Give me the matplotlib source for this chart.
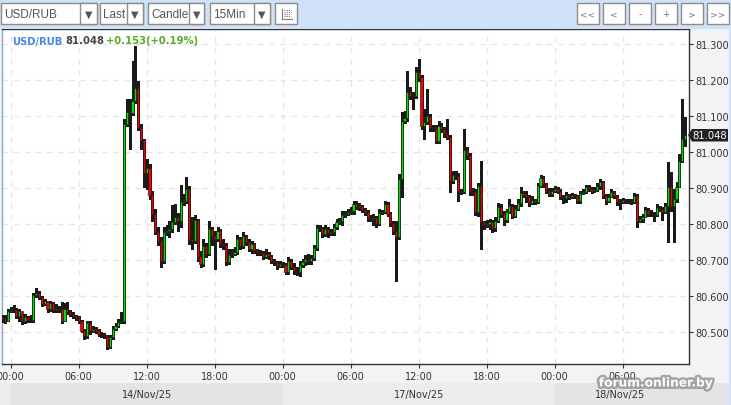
import matplotlib
matplotlib.use('Agg')
import matplotlib.pyplot as plt
import matplotlib.patches as mpatches
import matplotlib.patheffects as pe
import numpy as np

# USD/RUB, 15 minute candles. index 0 = 14/Nov 00:00, weekend skipped (96 = 17/Nov 00:00)
first_index = -3
first_open = 80.542
closes = [
    80.536, 80.531, 80.558, 80.561, 80.561, 80.544, 80.558, 80.531, 80.542, 80.533,
    80.533, 80.603, 80.608, 80.597, 80.578, 80.586, 80.564, 80.581, 80.561, 80.564,
    80.564, 80.531, 80.564, 80.556, 80.550, 80.544, 80.539, 80.531, 80.503, 80.489,
    80.525, 80.503, 80.508, 80.503, 80.494, 80.492, 80.489, 80.458, 80.486, 80.508,
    80.517, 80.528, 80.531, 81.078, 81.111, 81.108, 81.142, 81.178, 81.067, 81.033,
    80.942, 80.956, 80.881, 80.828, 80.778, 80.753, 80.697, 80.778, 80.781, 80.786,
    80.806, 80.819, 80.808, 80.861, 80.864, 80.897, 80.758, 80.753, 80.811, 80.708,
    80.689, 80.739, 80.717, 80.786, 80.767, 80.758, 80.781, 80.744, 80.742, 80.694,
    80.714, 80.717, 80.722, 80.758, 80.739, 80.767, 80.750, 80.731, 80.744, 80.725,
    80.722, 80.719, 80.708, 80.717, 80.711, 80.697, 80.694, 80.683, 80.689, 80.686,
    80.667, 80.697, 80.681, 80.669, 80.667, 80.686, 80.694, 80.703, 80.697, 80.706,
    80.733, 80.789, 80.789, 80.772, 80.786, 80.775, 80.778, 80.792, 80.806, 80.808,
    80.825, 80.828, 80.833, 80.836, 80.856, 80.847, 80.850, 80.839, 80.833, 80.817,
    80.814, 80.817, 80.800, 80.831, 80.833, 80.856, 80.828, 80.803, 80.781, 80.764,
    80.925, 81.086, 81.094, 81.167, 81.156, 81.156, 81.222, 81.208, 81.072, 81.083,
    81.100, 81.067, 81.064, 81.031, 81.072, 81.064, 81.050, 81.042, 80.919, 80.936,
    80.933, 80.892, 80.889, 81.006, 80.992, 80.892, 80.889, 80.833, 80.906, 80.806,
    80.797, 80.800, 80.806, 80.789, 80.808, 80.847, 80.828, 80.811, 80.833, 80.850,
    80.822, 80.842, 80.858, 80.886, 80.881, 80.875, 80.858, 80.867, 80.861, 80.906,
    80.928, 80.911, 80.892, 80.883, 80.892, 80.897, 80.892, 80.875, 80.872, 80.881,
    80.875, 80.881, 80.878, 80.864, 80.886, 80.889, 80.903, 80.897, 80.892, 80.894,
    80.906, 80.917, 80.878, 80.864, 80.875, 80.889, 80.878, 80.861, 80.861, 80.867,
    80.864, 80.864, 80.861, 80.878, 80.808, 80.814, 80.819, 80.839, 80.828, 80.828,
    80.825, 80.844, 80.842, 80.833, 80.850, 80.903, 80.850, 80.869, 80.903, 80.975,
    81.036, 81.048,
]
highs = [
    80.547, 80.547, 80.564, 80.569, 80.575, 80.567, 80.564, 80.550, 80.550, 80.544,
    80.547, 80.608, 80.622, 80.614, 80.600, 80.592, 80.586, 80.586, 80.583, 80.578,
    80.572, 80.583, 80.581, 80.583, 80.561, 80.556, 80.547, 80.544, 80.533, 80.508,
    80.531, 80.531, 80.517, 80.514, 80.508, 80.500, 80.497, 80.492, 80.492, 80.517,
    80.525, 80.536, 80.556, 81.092, 81.147, 81.147, 81.253, 81.294, 81.197, 81.078,
    81.036, 80.981, 80.967, 80.892, 80.842, 80.792, 80.764, 80.792, 80.797, 80.808,
    80.853, 80.856, 80.831, 80.908, 80.883, 80.931, 80.906, 80.819, 80.825, 80.814,
    80.725, 80.758, 80.747, 80.808, 80.792, 80.781, 80.792, 80.786, 80.758, 80.747,
    80.731, 80.731, 80.736, 80.769, 80.764, 80.778, 80.769, 80.758, 80.753, 80.747,
    80.731, 80.728, 80.725, 80.731, 80.722, 80.714, 80.703, 80.697, 80.697, 80.694,
    80.692, 80.708, 80.703, 80.692, 80.681, 80.697, 80.703, 80.714, 80.717, 80.714,
    80.742, 80.797, 80.797, 80.792, 80.797, 80.792, 80.786, 80.800, 80.814, 80.817,
    80.836, 80.836, 80.842, 80.847, 80.864, 80.864, 80.858, 80.853, 80.844, 80.839,
    80.825, 80.828, 80.822, 80.842, 80.839, 80.864, 80.861, 80.833, 80.808, 80.808,
    80.939, 81.111, 81.114, 81.225, 81.181, 81.167, 81.236, 81.258, 81.214, 81.119,
    81.175, 81.106, 81.075, 81.075, 81.086, 81.081, 81.069, 81.092, 81.047, 80.947,
    80.947, 80.942, 80.897, 81.064, 81.014, 80.997, 80.900, 80.897, 80.914, 80.975,
    80.808, 80.811, 80.814, 80.811, 80.819, 80.858, 80.856, 80.836, 80.842, 80.869,
    80.856, 80.853, 80.869, 80.903, 80.892, 80.892, 80.881, 80.878, 80.869, 80.914,
    80.936, 80.933, 80.914, 80.900, 80.900, 80.906, 80.903, 80.897, 80.881, 80.889,
    80.883, 80.886, 80.883, 80.881, 80.892, 80.897, 80.908, 80.908, 80.903, 80.903,
    80.914, 80.925, 80.919, 80.883, 80.883, 80.897, 80.892, 80.881, 80.869, 80.872,
    80.869, 80.869, 80.869, 80.886, 80.883, 80.822, 80.828, 80.847, 80.844, 80.839,
    80.833, 80.856, 80.850, 80.847, 80.858, 80.972, 80.944, 80.897, 80.917, 80.994,
    81.147, 81.097,
]
lows = [
    80.528, 80.525, 80.531, 80.556, 80.556, 80.539, 80.531, 80.522, 80.525, 80.528,
    80.528, 80.528, 80.597, 80.592, 80.572, 80.575, 80.556, 80.558, 80.556, 80.556,
    80.556, 80.525, 80.531, 80.550, 80.544, 80.539, 80.533, 80.525, 80.500, 80.481,
    80.483, 80.494, 80.500, 80.497, 80.489, 80.486, 80.483, 80.453, 80.456, 80.481,
    80.506, 80.514, 80.525, 80.525, 81.072, 81.008, 81.103, 81.136, 81.061, 81.008,
    80.903, 80.897, 80.869, 80.808, 80.772, 80.742, 80.681, 80.692, 80.769, 80.764,
    80.778, 80.800, 80.781, 80.792, 80.853, 80.858, 80.744, 80.731, 80.747, 80.697,
    80.681, 80.683, 80.708, 80.714, 80.742, 80.675, 80.753, 80.736, 80.731, 80.686,
    80.689, 80.708, 80.714, 80.717, 80.731, 80.733, 80.742, 80.725, 80.719, 80.719,
    80.714, 80.714, 80.703, 80.706, 80.703, 80.692, 80.686, 80.675, 80.681, 80.681,
    80.661, 80.661, 80.675, 80.661, 80.658, 80.656, 80.681, 80.686, 80.689, 80.689,
    80.700, 80.728, 80.781, 80.764, 80.767, 80.764, 80.769, 80.769, 80.786, 80.800,
    80.797, 80.819, 80.825, 80.828, 80.828, 80.842, 80.839, 80.833, 80.825, 80.808,
    80.808, 80.797, 80.792, 80.797, 80.828, 80.831, 80.822, 80.794, 80.772, 80.642,
    80.758, 80.875, 81.081, 81.086, 81.147, 81.119, 81.150, 81.197, 81.064, 81.036,
    81.078, 81.058, 81.058, 81.025, 81.025, 81.056, 81.042, 81.036, 80.889, 80.914,
    80.925, 80.864, 80.883, 80.886, 80.981, 80.881, 80.881, 80.825, 80.822, 80.731,
    80.786, 80.792, 80.786, 80.778, 80.781, 80.806, 80.819, 80.797, 80.806, 80.831,
    80.817, 80.819, 80.839, 80.850, 80.875, 80.861, 80.850, 80.856, 80.856, 80.858,
    80.903, 80.903, 80.886, 80.878, 80.878, 80.889, 80.886, 80.869, 80.858, 80.861,
    80.869, 80.872, 80.872, 80.858, 80.858, 80.883, 80.886, 80.892, 80.886, 80.889,
    80.892, 80.897, 80.872, 80.856, 80.861, 80.875, 80.872, 80.853, 80.842, 80.858,
    80.858, 80.858, 80.856, 80.858, 80.792, 80.806, 80.806, 80.819, 80.822, 80.822,
    80.808, 80.822, 80.836, 80.811, 80.831, 80.750, 80.836, 80.750, 80.861, 80.903,
    80.972, 81.017,
]

time_ticks = [0, 24, 48, 72, 96, 120, 144, 168, 192, 216]
time_labels = ['00:00', '06:00', '12:00', '18:00', '00:00', '06:00', '12:00', '18:00', '00:00', '06:00']
price_ticks = [80.5, 80.6, 80.7, 80.8, 80.9, 81.0, 81.1, 81.2, 81.3]
day_labels = ['14/Nov/25', '17/Nov/25', '18/Nov/25']
day_start = [0, 96, 192]
day_end = [96, 192, 262]
day_label_pos = [48, 144, 215]

symbol = 'USD/RUB'
last_price = '81.048'
change = '+0.153(+0.19%)'

W, H = 731, 406
fig = plt.figure(figsize=(W / 100, H / 100), dpi=100)
fig.patch.set_facecolor('#f2f3f5')

# main chart area (pixel box 1.5..689 x 30..365)
ax = fig.add_axes([1.5 / W, (H - 365) / H, 687.5 / W, 335 / H], zorder=1)
ax.set_facecolor('white')

x = np.arange(first_index, first_index + len(closes))
c = np.array(closes)
o = np.array([first_open] + closes[:-1])
up = c >= o
body_col = np.where(up, '#00e000', '#f00000')

ax.vlines(x, lows, highs, color='#1a1a1a', lw=1, zorder=3, antialiased=False)
ax.bar(x, np.abs(c - o), bottom=np.minimum(c, o), width=0.78, color=body_col,
       edgecolor='#1a1a1a', linewidth=0.45, zorder=4)

ax.set_xlim(-3.25, 239.4)
ax.set_ylim(80.4111, 81.3417)

ax.set_xticks(time_ticks)
ax.set_xticklabels(time_labels)
ax.set_yticks(price_ticks)
ax.set_yticklabels(['%.3f' % p for p in price_ticks])
ax.yaxis.tick_right()
ax.tick_params(axis='both', direction='out', length=3, color='#333333', labelcolor='#333333',
               labelsize=7)
ax.tick_params(axis='y', pad=1.5)
ax.tick_params(axis='x', pad=2)
ax.grid(True, color='#e6e6e6', lw=1, linestyle=(0, (4, 4)), zorder=0)
ax.set_axisbelow(True)
for name, sp in ax.spines.items():
    sp.set_color('#333333')
    sp.set_linewidth(1)
ax.spines['left'].set_color('#8aa6c8')

# day band under the time labels
tr = ax.get_xaxis_transform()
band_cols = ['#e3e4e6', '#ebecee', '#e3e4e6']
ax.add_patch(mpatches.Rectangle((-20, -0.1224), 20, 0.0657, transform=tr, clip_on=False,
                                facecolor='#ebecee', edgecolor='none', zorder=0))
for s, e, xm, lab, col in zip(day_start, day_end, day_label_pos, day_labels, band_cols):
    ax.add_patch(mpatches.Rectangle((s, -0.1224), e - s, 0.0657, transform=tr, clip_on=False,
                                    facecolor=col, edgecolor='none', zorder=0))
    ax.text(xm, -0.089, lab, transform=tr, ha='center', va='center', fontsize=7,
            color='#333333', zorder=1)

# overlay in pixel coordinates for toolbar and labels
ui = fig.add_axes([0, 0, 1, 1], zorder=5)
ui.set_xlim(0, W)
ui.set_ylim(H, 0)
ui.axis('off')
ui.patch.set_alpha(0)

ui.add_patch(mpatches.Rectangle((0, 0), W, 30, facecolor='#cfe2f8', edgecolor='none'))
ui.add_patch(mpatches.Rectangle((729, 30), 2, H - 30, facecolor='#cfe2f8', edgecolor='none'))


def dropdown(x0, x1, xdiv, label):
    ui.add_patch(mpatches.Rectangle((x0, 4), x1 - x0, 21, facecolor='white',
                                    edgecolor='#8c8c8c', lw=1))
    ui.text(x0 + 3.5, 15, label, fontsize=8.5, family='Liberation Sans', color='#555555',
            va='center', ha='left')
    ui.add_patch(mpatches.Rectangle((xdiv, 4), x1 - xdiv, 21, facecolor='white',
                                    edgecolor='#8c8c8c', lw=1))
    ui.text((xdiv + x1) / 2, 15, '\u25bc', fontsize=7, color='#555555', ha='center',
            va='center')


dropdown(1, 97, 80, 'USD/RUB')
dropdown(100, 143, 127, 'Last')
dropdown(148, 204, 189, 'Candle')
dropdown(210, 270, 254, '15Min')

ui.add_patch(mpatches.Rectangle((275, 4), 22, 21, facecolor='white', edgecolor='#8c8c8c', lw=1))
ui.plot([282, 282], [10, 20], color='#777777', lw=0.8)
ui.plot([282, 292], [20, 20], color='#777777', lw=0.8)
for yy in [11, 13, 15, 17]:
    ui.plot([284, 291], [yy, yy], color='#777777', lw=0.8, linestyle=(0, (1, 1)))

buttons = ['<<', '<', '-', '+', '>', '>>']
for k, b in enumerate(buttons):
    bx = 577 + 26 * k
    ui.add_patch(mpatches.Rectangle((bx, 4), 22, 21, facecolor='white', edgecolor='#8c8c8c', lw=1))
    ui.text(bx + 11, 14.5, b, fontsize=6.5, color='#777777', ha='center', va='center')

# header inside the chart
ui.text(12, 41.5, symbol, fontsize=7.2, weight='bold', color='#4a86e8', va='center')
ui.text(65, 41.5, last_price, fontsize=7.2, weight='bold', color='#444444', va='center')
ui.text(106, 41.5, change, fontsize=7.2, weight='bold', color='#5aaa2a', va='center')

# last price tag on the price axis
ui.add_patch(mpatches.Polygon([(688, 136), (692, 130), (728, 130), (728, 142.5), (692, 142.5)],
                              closed=True, facecolor='#222222', edgecolor='none'))
ui.text(710, 136.5, last_price, fontsize=7.2, color='white', ha='center', va='center')

# watermark
ui.text(656, 384, 'forum.onliner.by', fontsize=8.8, weight='bold', color='white',
        ha='center', va='center',
        path_effects=[pe.withStroke(linewidth=3.5, foreground='#8c8c8c', alpha=0.75)])

fig.savefig('out.png', dpi=100, facecolor=fig.get_facecolor())
